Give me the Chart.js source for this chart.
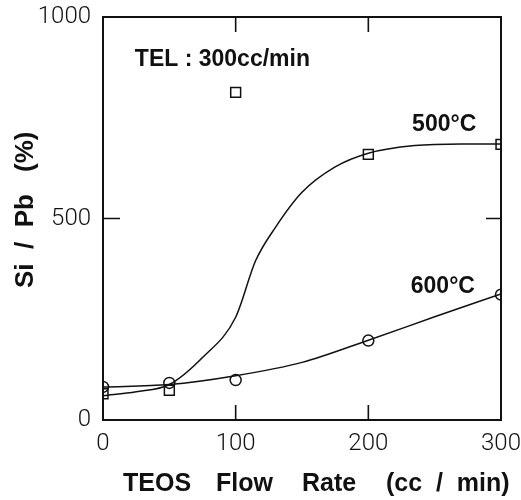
<!DOCTYPE html>
<html>
<head>
<meta charset="utf-8">
<script src="https://cdn.jsdelivr.net/npm/chart.js@4/dist/chart.umd.min.js"></script>
<style>
html,body{margin:0;padding:0;background:#fff;}
#wrap{width:521px;height:500px;position:relative;}
</style>
</head>
<body>
<div id="wrap"><canvas id="c" width="521" height="500"></canvas></div>
<script>
// ---- data ----
const teosFlow = [0, 50, 100, 200, 300];          // cc/min
const siPb500 = [65, 74, 813, 659, 684];           // % (squares, 500°C)
const siPb600 = [82, 92, 99, 197, 311];            // % (circles, 600°C)

// fitted curves
const fit500X = [0, 25, 50, 75, 100, 115, 130, 150, 175, 200, 235, 270, 300];
const fit500Y = [60, 70, 88, 155, 255, 395, 478, 565, 628, 662, 681, 685, 685];
const fit600X = [0, 50, 100, 150, 200, 250, 300];
const fit600Y = [82, 88, 110, 143, 198, 256, 313];

const xTicks = [0, 100, 200, 300];
const yTicks = [0, 500, 1000];

const xTitleWords = ["TEOS", "Flow", "Rate", "(cc  /  min)"];
const yTitleParts = ["Si  /  Pb", "(%)"];
const noteText = "TEL : 300cc/min";
const label500 = "500°C";
const label600 = "600°C";

const pts = (xs, ys) => xs.map((x, i) => ({x, y: ys[i]}));
const INK = '#111';

const framePlugin = {
  id: 'frame',
  afterDatasetsDraw(chart) {
    const {ctx, chartArea: a, scales: {x, y}} = chart;
    ctx.save();
    ctx.strokeStyle = INK;
    ctx.lineWidth = 2;
    ctx.strokeRect(a.left, a.top, a.right - a.left, a.bottom - a.top);
    // inward ticks
    ctx.lineWidth = 1.6;
    const tl = 15;
    [100, 200].forEach(v => {
      const px = x.getPixelForValue(v);
      ctx.beginPath();
      ctx.moveTo(px, a.bottom); ctx.lineTo(px, a.bottom - tl);
      ctx.moveTo(px, a.top); ctx.lineTo(px, a.top + tl);
      ctx.stroke();
    });
    [500].forEach(v => {
      const py = y.getPixelForValue(v);
      ctx.beginPath();
      ctx.moveTo(a.left, py); ctx.lineTo(a.left + tl + 2, py);
      ctx.moveTo(a.right, py); ctx.lineTo(a.right - tl, py);
      ctx.stroke();
    });
    ctx.restore();
  },
  afterDraw(chart) {
    const {ctx, scales: {x, y}} = chart;
    ctx.save();
    ctx.fillStyle = INK;
    ctx.textBaseline = 'alphabetic';
    // annotation texts
    ctx.font = 'bold 23px "Liberation Sans", Arial, sans-serif';
    ctx.textAlign = 'left';
    ctx.fillText(noteText, x.getPixelForValue(24), y.getPixelForValue(878));
    ctx.fillText(label500, x.getPixelForValue(233), y.getPixelForValue(718));
    ctx.fillText(label600, x.getPixelForValue(232), y.getPixelForValue(315));
    // x title
    ctx.font = 'bold 25px "Liberation Sans", Arial, sans-serif';
    const xs = [123, 216, 302, 386];
    xTitleWords.forEach((w, i) => ctx.fillText(w, xs[i], 491));
    // y title
    ctx.save();
    ctx.translate(33, 288);
    ctx.rotate(-Math.PI / 2);
    ctx.font = 'bold 26px "Liberation Sans", Arial, sans-serif';
    ctx.fillText(yTitleParts[0], 0, 0);
    ctx.fillText(yTitleParts[1], 288 - 172, 0);
    ctx.restore();
    ctx.restore();
  }
};

const tickFont = {family: 'Roboto, "Liberation Sans", sans-serif', size: 24, weight: 300};

new Chart(document.getElementById('c'), {
  type: 'scatter',
  data: {
    datasets: [
      {
        label: 'fit 500',
        data: pts(fit500X, fit500Y),
        showLine: true, pointRadius: 0, borderColor: INK, borderWidth: 1.5,
        cubicInterpolationMode: 'monotone', fill: false
      },
      {
        label: 'fit 600',
        data: pts(fit600X, fit600Y),
        showLine: true, pointRadius: 0, borderColor: INK, borderWidth: 1.5,
        cubicInterpolationMode: 'monotone', fill: false
      },
      {
        label: '500°C',
        data: pts(teosFlow, siPb500),
        showLine: false, pointStyle: 'rect', pointRadius: 7,
        borderColor: INK, borderWidth: 1.5, backgroundColor: 'rgba(255,255,255,0)'
      },
      {
        label: '600°C',
        data: pts(teosFlow, siPb600),
        showLine: false, pointStyle: 'circle', pointRadius: 5.5,
        borderColor: INK, borderWidth: 1.5, backgroundColor: 'rgba(255,255,255,0)'
      }
    ]
  },
  options: {
    responsive: false,
    animation: false,
    devicePixelRatio: 1,
    layout: {padding: {top: 17, right: 20, left: 0, bottom: 0}},
    plugins: {legend: {display: false}, tooltip: {enabled: false}, title: {display: false}},
    scales: {
      x: {
        type: 'linear', min: 0, max: 300,
        afterFit(s) { s.height = 80; s.paddingLeft = 0; s.paddingRight = 0; },
        afterBuildTicks(s) { s.ticks = xTicks.map(v => ({value: v})); },
        grid: {display: false, drawTicks: false},
        border: {display: false},
        ticks: {
          color: INK, padding: 10, maxRotation: 0, autoSkip: false,
          callback: v => String(v), font: tickFont
        }
      },
      y: {
        type: 'linear', min: 0, max: 1000,
        afterFit(s) { s.width = 103; s.paddingTop = 0; s.paddingBottom = 0; },
        afterBuildTicks(s) { s.ticks = yTicks.map(v => ({value: v})); },
        grid: {display: false, drawTicks: false},
        border: {display: false},
        ticks: {
          color: INK, padding: 12, autoSkip: false,
          callback: v => String(v), font: tickFont
        }
      }
    }
  },
  plugins: [framePlugin]
});
</script>
</body>
</html>
